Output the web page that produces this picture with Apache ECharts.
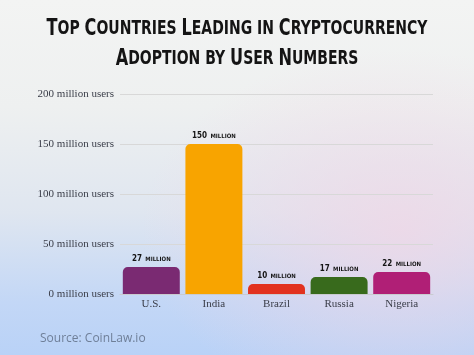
<!DOCTYPE html>
<html>
<head>
<meta charset="utf-8">
<script src="https://cdn.jsdelivr.net/npm/echarts@6/dist/echarts.min.js"></script>
<style>
html,body{margin:0;padding:0;}
#bg{position:absolute;left:0;top:0;width:474px;height:355px;
background:
 radial-gradient(ellipse 260px 180px at 400px 230px, rgba(240,215,230,0.8), rgba(240,215,230,0)),
 linear-gradient(180deg,#f3f4f3 0%,#eef0f0 30%,#dfe6f0 60%,#c3d7f6 85%,#b9d2f7 100%);}
#chart{position:absolute;left:0;top:0;width:474px;height:355px;}
</style>
</head>
<body>
<div id="bg"></div>
<div id="chart"></div>
<script>
var categories = ['U.S.', 'India', 'Brazil', 'Russia', 'Nigeria'];
var values = [27, 150, 10, 17, 22];
var barColors = ['#7a2a72', '#f8a400', '#e2321f', '#386a1c', '#b01f76'];
var yTicks = [0, 50, 100, 150, 200];
var titleLines = ['Top Countries Leading in Cryptocurrency', 'Adoption by User Numbers'];

function smallCaps(s) {
  var out = '', cur = null, buf = '';
  for (var i = 0; i < s.length; i++) {
    var ch = s[i];
    var st = (ch >= 'A' && ch <= 'Z') ? 'B' : 's';
    if (ch === ' ') st = cur || 's';
    if (st !== cur) {
      if (buf) out += '{' + cur + '|' + buf + '}';
      buf = ''; cur = st;
    }
    buf += ch.toUpperCase();
  }
  if (buf) out += '{' + cur + '|' + buf + '}';
  return out;
}

var titleFont = 'DejaVu Sans';
var chart = echarts.init(document.getElementById('chart'), null, {renderer: 'canvas'});
chart.setOption({
  backgroundColor: 'transparent',
  animation: false,
  title: [{
    text: 'Source: CoinLaw.io',
    left: 35,
    top: 328,
    textStyle: {
      fontFamily: 'Open Sans',
      fontWeight: 'normal',
      fontSize: 12,
      color: '#6f7f98'
    }
  }],
  graphic: [{
    type: 'group',
    x: 237,
    y: 14,
    scaleX: 0.7,
    children: [{
      type: 'text',
      x: 0,
      y: 0,
      style: {
        text: titleLines.map(smallCaps).join('\n'),
        align: 'center',
        verticalAlign: 'top',
        rich: {
          B: {fontFamily: titleFont, fontWeight: 'bold', fontSize: 23, lineHeight: 30, fill: '#141414'},
          s: {fontFamily: titleFont, fontWeight: 'bold', fontSize: 20, lineHeight: 30, fill: '#141414'}
        }
      }
    }]
  }],
  grid: {left: 120, right: 41, top: 94, bottom: 61, containLabel: false},
  xAxis: {
    type: 'category',
    data: categories,
    axisLine: {show: true, lineStyle: {color: '#c9cbd0', width: 1}},
    axisTick: {show: false},
    axisLabel: {
      fontFamily: 'Liberation Serif',
      fontSize: 11,
      color: '#3a3d48',
      margin: 5
    }
  },
  yAxis: {
    type: 'value',
    min: 0,
    max: 200,
    interval: 50,
    axisLine: {show: false},
    axisTick: {show: false},
    splitLine: {lineStyle: {color: '#d8d8d8', width: 1}},
    axisLabel: {
      fontFamily: 'Liberation Serif',
      fontSize: 11,
      color: '#3a3d48',
      margin: 6,
      formatter: function (v) { return v + ' million users'; }
    }
  },
  series: [{
    type: 'bar',
    data: values.map(function (v, i) {
      return {value: v, itemStyle: {color: barColors[i]}};
    }),
    barWidth: '91%',
    itemStyle: {borderRadius: [5, 5, 0, 0]},
    label: {
      show: true,
      position: 'top',
      distance: 2,
      formatter: function (p) { return '{n|' + p.value + '} {m|MILLION}'; },
      rich: {
        n: {fontFamily: 'DejaVu Sans Condensed', fontWeight: 'bold', fontSize: 8, color: '#151515'},
        m: {fontFamily: 'DejaVu Sans Condensed', fontWeight: 'bold', fontSize: 6, color: '#151515'}
      }
    }
  }]
});
</script>
</body>
</html>
